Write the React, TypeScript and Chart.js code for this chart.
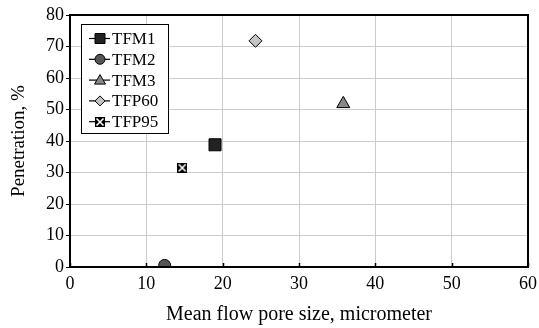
import React, { useEffect, useRef } from "react";
import { Chart, registerables } from "chart.js";

Chart.register(...registerables);

// Samples: mean flow pore size (micrometer) vs. penetration (%)
const seriesNames = ["TFM1", "TFM2", "TFM3", "TFP60", "TFP95"];
const poreSize = [19.0, 12.4, 35.8, 24.3, 14.7];
const penetration = [38.8, 0.5, 51.8, 71.8, 31.5];
const markerFills = ["#222222", "#555555", "#888888", "#c4c4c4", "#000000"];

const xTicks = [0, 10, 20, 30, 40, 50, 60];
const yTicks = [0, 10, 20, 30, 40, 50, 60, 70, 80];

const FONT = "'Liberation Serif', 'DejaVu Serif', serif";

// Black square crossed by a white X
function crossBox(size: number): HTMLCanvasElement {
  const c = document.createElement("canvas");
  c.width = size;
  c.height = size;
  const g = c.getContext("2d")!;
  g.fillStyle = "#000";
  g.fillRect(0, 0, size, size);
  g.strokeStyle = "#fff";
  g.lineWidth = 1.6;
  g.beginPath();
  g.moveTo(1.5, 1.5);
  g.lineTo(size - 1.5, size - 1.5);
  g.moveTo(size - 1.5, 1.5);
  g.lineTo(1.5, size - 1.5);
  g.stroke();
  return c;
}

const pointStyles: any[] = ["rect", "circle", "triangle", "rectRot", null];
const pointRadii = [8.5, 6, 7.5, 6.5, 5];

function drawMarker(ctx: CanvasRenderingContext2D, i: number, x: number, y: number, s: number) {
  ctx.save();
  ctx.fillStyle = markerFills[i];
  ctx.strokeStyle = "#000";
  ctx.lineWidth = 1;
  ctx.beginPath();
  if (i === 0) {
    ctx.rect(x - s, y - s, 2 * s, 2 * s);
    ctx.fill();
    ctx.stroke();
  } else if (i === 1) {
    ctx.arc(x, y, s, 0, Math.PI * 2);
    ctx.fill();
    ctx.stroke();
  } else if (i === 2) {
    ctx.moveTo(x, y - s * 1.1);
    ctx.lineTo(x + s * 1.1, y + s * 0.8);
    ctx.lineTo(x - s * 1.1, y + s * 0.8);
    ctx.closePath();
    ctx.fill();
    ctx.stroke();
  } else if (i === 3) {
    ctx.moveTo(x, y - s);
    ctx.lineTo(x + s, y);
    ctx.lineTo(x, y + s);
    ctx.lineTo(x - s, y);
    ctx.closePath();
    ctx.fill();
    ctx.stroke();
  } else {
    const sz = Math.round(2 * s);
    ctx.drawImage(crossBox(sz), Math.round(x - sz / 2), Math.round(y - sz / 2));
  }
  ctx.restore();
}

const legendBox = {
  id: "legendBox",
  afterDraw(chart: any) {
    const ctx: CanvasRenderingContext2D = chart.ctx;
    const left = 81.5;
    const top = 24.5;
    const w = 87;
    const h = 109;
    ctx.save();
    ctx.fillStyle = "#fff";
    ctx.fillRect(left, top, w, h);
    ctx.strokeStyle = "#000";
    ctx.lineWidth = 1;
    ctx.strokeRect(left, top, w, h);
    ctx.font = `17px ${FONT}`;
    ctx.textBaseline = "middle";
    ctx.textAlign = "left";
    seriesNames.forEach((name, i) => {
      const y = 38.5 + i * 20.8;
      ctx.beginPath();
      ctx.strokeStyle = "#000";
      ctx.lineWidth = 1.2;
      ctx.moveTo(89, y);
      ctx.lineTo(110, y);
      ctx.stroke();
      drawMarker(ctx, i, 100, y, 5);
      ctx.fillStyle = "#000";
      ctx.fillText(name, 112, y + 1);
    });
    ctx.restore();
  },
};

// Plot frame plus short inward tick marks on the x axis
const frame = {
  id: "frame",
  afterDatasetsDraw(chart: any) {
    const { left, right, top, bottom } = chart.chartArea;
    const ctx: CanvasRenderingContext2D = chart.ctx;
    const xs = chart.scales.x;
    ctx.save();
    ctx.strokeStyle = "#000";
    ctx.lineWidth = 1.5;
    ctx.beginPath();
    xTicks.forEach((v) => {
      const px = Math.round(xs.getPixelForValue(v)) + 0.5;
      ctx.moveTo(px, bottom);
      ctx.lineTo(px, bottom - 4);
    });
    ctx.stroke();
    ctx.lineWidth = 2;
    ctx.strokeRect(left, top, right - left, bottom - top);
    ctx.restore();
  },
};

export default function App() {
  const ref = useRef<HTMLCanvasElement>(null);

  useEffect(() => {
    const tfp95 = crossBox(10);
    const datasets = seriesNames.map((name, i) => ({
      label: name,
      data: [{ x: poreSize[i], y: penetration[i] }],
      pointStyle: pointStyles[i] ?? tfp95,
      pointRadius: pointRadii[i],
      pointBackgroundColor: markerFills[i],
      pointBorderColor: "#000",
      pointBorderWidth: 1,
      showLine: false,
    }));

    const chart = new Chart(ref.current!, {
      type: "scatter",
      data: { datasets },
      plugins: [frame, legendBox],
      options: {
        animation: false,
        responsive: false,
        layout: { padding: { top: 15, right: 11, left: 0, bottom: 0 } },
        plugins: { legend: { display: false }, tooltip: { enabled: false } },
        scales: {
          x: {
            type: "linear",
            min: 0,
            max: 60,
            afterBuildTicks: (s: any) => {
              s.ticks = xTicks.map((v) => ({ value: v }));
            },
            afterFit: (s: any) => {
              s.height = 61;
            },
            grid: { color: "#cccccc", lineWidth: 1, drawTicks: true, tickLength: 4, tickColor: "rgba(0,0,0,0)" },
            border: { display: false },
            ticks: { color: "#000", font: { family: FONT, size: 18 }, padding: 2, maxRotation: 0 },
            title: {
              display: true,
              text: "Mean flow pore size, micrometer",
              color: "#000",
              font: { family: FONT, size: 20 },
              padding: { top: 0, bottom: 1 },
            },
          },
          y: {
            type: "linear",
            min: 0,
            max: 80,
            afterBuildTicks: (s: any) => {
              s.ticks = yTicks.map((v) => ({ value: v }));
            },
            afterFit: (s: any) => {
              s.width = 70;
            },
            grid: { color: "#cccccc", lineWidth: 1, drawTicks: true, tickLength: 4, tickColor: "#000" },
            border: { display: false },
            ticks: { color: "#000", font: { family: FONT, size: 18 }, padding: 2 },
            title: {
              display: true,
              text: "Penetration, %",
              color: "#000",
              font: { family: FONT, size: 19 },
              padding: { top: 8, bottom: 0 },
            },
          },
        },
      },
    });
    return () => chart.destroy();
  }, []);

  return (
    <div style={{ position: "fixed", left: 0, top: 0, width: 539, height: 328, background: "#fff" }}>
      <canvas ref={ref} width={539} height={328} style={{ display: "block" }} />
    </div>
  );
}
